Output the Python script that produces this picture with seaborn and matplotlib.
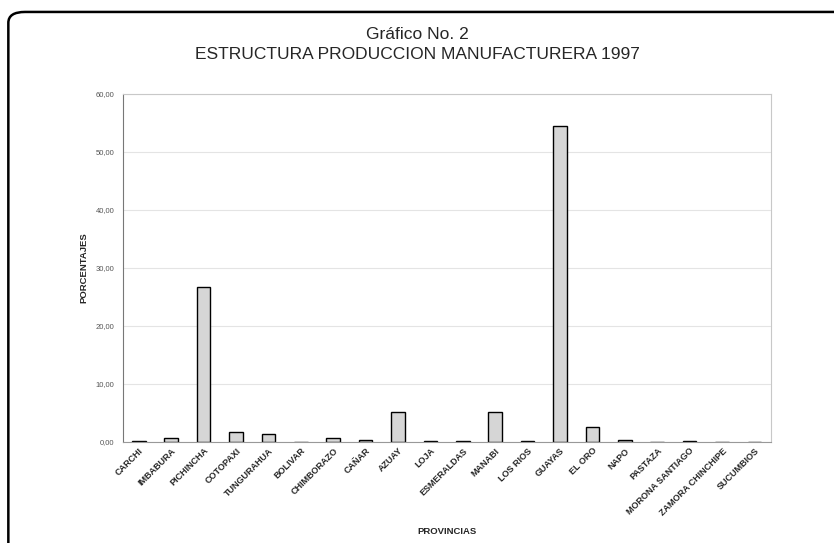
import pandas as pd
import numpy as np
import seaborn as sns
import matplotlib.pyplot as plt
from matplotlib.patches import FancyBboxPatch
from matplotlib.ticker import FuncFormatter

# provinces and share of manufacturing production (%)
provincias = ['CARCHI', 'IMBABURA', 'PICHINCHA', 'COTOPAXI', 'TUNGURAHUA', 'BOLIVAR',
              'CHIMBORAZO', 'CAÑAR', 'AZUAY', 'LOJA', 'ESMERALDAS', 'MANABI', 'LOS RIOS',
              'GUAYAS', 'EL ORO', 'NAPO', 'PASTAZA', 'MORONA SANTIAGO', 'ZAMORA CHINCHIPE',
              'SUCUMBIOS']
porcentajes = [0.10, 0.75, 26.8, 1.8, 1.3, 0.05,
               0.65, 0.40, 5.1, 0.15, 0.15, 5.2, 0.20,
               54.5, 2.6, 0.30, 0.05, 0.20, 0.05, 0.05]
y_ticks = [0, 10, 20, 30, 40, 50, 60]

df = pd.DataFrame({'provincia': provincias, 'porcentaje': porcentajes})

sns.set_style('white')
plt.rcParams['font.family'] = ['Liberation Sans', 'DejaVu Sans']

fig = plt.figure(figsize=(8.34, 5.43), dpi=100)
ax = fig.add_axes([0.147, 0.186, 0.777, 0.641])

sns.barplot(data=df, x='provincia', y='porcentaje', color='#d6d6d6',
            edgecolor='black', linewidth=1.0, width=0.42, saturation=1, ax=ax)

ax.set_ylim(0, 60)
ax.set_xlim(-0.5, len(provincias) - 0.5)
ax.set_yticks(y_ticks)
ax.yaxis.set_major_formatter(FuncFormatter(lambda v, p: f'{v:.2f}'.replace('.', ',')))
ax.tick_params(axis='y', labelsize=5.5, labelcolor='#555555', length=0, pad=6)
ax.tick_params(axis='x', labelsize=6.5, length=0, pad=3)
plt.setp(ax.get_xticklabels(), rotation=45, ha='right', rotation_mode='anchor',
         fontweight='bold')

ax.yaxis.grid(True, color='#e4e4e4', linewidth=0.8)
ax.set_axisbelow(True)
for side in ['top', 'right']:
    ax.spines[side].set_color('#c8c8c8')
    ax.spines[side].set_linewidth(0.8)
ax.spines['left'].set_color('#777777')
ax.spines['bottom'].set_color('#999999')

ax.set_ylabel('PORCENTAJES', fontsize=6.8, fontweight='bold', labelpad=5)
ax.set_xlabel('PROVINCIAS', fontsize=6.8, fontweight='bold')
ax.xaxis.set_label_coords(0.5, -0.245)

fig.text(0.5, 0.937, 'Gráfico No. 2', ha='center', va='center', fontsize=12.5)
fig.text(0.5, 0.899, 'ESTRUCTURA PRODUCCION MANUFACTURERA 1997', ha='center',
         va='center', fontsize=12.5)

# rounded frame around the chart, cut off at right and bottom like the scan
frame = FancyBboxPatch((0.010, -0.1), 1.2, 1.078,
                       boxstyle='round,pad=0,rounding_size=0.02',
                       transform=fig.transFigure, fill=False,
                       edgecolor='black', linewidth=1.8, clip_on=False)
fig.patches.append(frame)

fig.savefig('out.png', dpi=100)
